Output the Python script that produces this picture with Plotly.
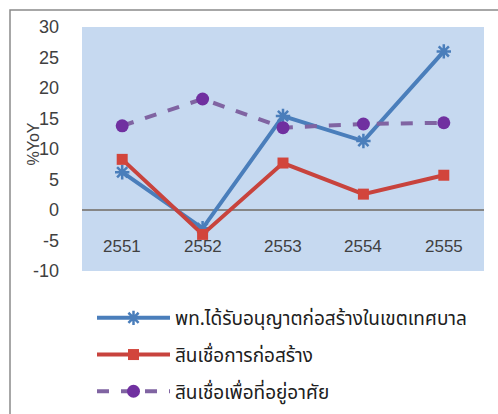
import plotly.graph_objects as go

years = ["2551", "2552", "2553", "2554", "2555"]
permits = [6.2, -3.0, 15.4, 11.3, 26.0]
constr_credit = [8.3, -4.0, 7.7, 2.6, 5.7]
housing_credit = [13.8, 18.2, 13.5, 14.1, 14.3]
y_ticks = [-10, -5, 0, 5, 10, 15, 20, 25, 30]

names = ["พท.ได้รับอนุญาตก่อสร้างในเขตเทศบาล", "สินเชื่อการก่อสร้าง", "สินเชื่อเพื่อที่อยู่อาศัย"]

W, H = 498, 414
ML, MR, MT, MB = 82, 14, 27, 143
pw, ph = W - ML - MR, H - MT - MB

def px_x(p):
    return (p - ML) / pw

def px_y(p):
    return (H - MB - p) / ph

fig = go.Figure()
fig.add_trace(go.Scatter(x=years, y=permits, name=names[0], mode="lines+markers", legendgroup="a",
                         line=dict(color="#4a7ebb", width=4),
                         marker=dict(symbol="asterisk-open", size=12, color="#4a7ebb",
                                     line=dict(color="#4a7ebb", width=2.5))))
fig.add_trace(go.Scatter(x=years, y=constr_credit, name=names[1], mode="lines+markers", legendgroup="b",
                         line=dict(color="#c8433d", width=4),
                         marker=dict(symbol="square", size=11, color="#d2453c")))
fig.add_trace(go.Scatter(x=years, y=housing_credit, name=names[2], mode="lines+markers", legendgroup="c",
                         line=dict(color="#8064a2", width=4, dash="dash"),
                         marker=dict(symbol="circle", size=13, color="#7030a0")))

for i, yr in enumerate(years):
    fig.add_annotation(x=i, y=-6, xref="x", yref="y", text=yr, showarrow=False,
                       font=dict(size=17, color="#404040", family="Liberation Sans, Arial"))

fig.add_annotation(x=px_x(22), y=px_y(144), xref="paper", yref="paper", text="%YoY",
                   textangle=-90, showarrow=False,
                   font=dict(size=16, color="#404040", family="Liberation Sans, Arial"))

fig.add_shape(type="rect", xref="paper", yref="paper",
              x0=px_x(10), y0=px_y(10), x1=px_x(520), y1=px_y(440),
              line=dict(color="#8a8a8a", width=1.5), fillcolor="rgba(0,0,0,0)", layer="below")

fig.update_layout(
    width=W, height=H,
    margin=dict(l=ML, r=MR, t=MT, b=MB, autoexpand=False),
    paper_bgcolor="white",
    plot_bgcolor="#c6d9f0",
    showlegend=True,
    legend=dict(x=px_x(92), y=px_y(299), xanchor="left", yanchor="top",
                font=dict(size=19, color="#202020", family="Noto Sans Thai, Tahoma, sans-serif"),
                tracegroupgap=9, itemwidth=73, bgcolor="rgba(0,0,0,0)"),
    xaxis=dict(type="category", showticklabels=False, showgrid=False, zeroline=False, showline=False,
               ticks="", range=[-0.5, 4.5]),
    yaxis=dict(range=[-10, 30], tickvals=y_ticks, ticktext=[str(v) for v in y_ticks],
               showgrid=False, zeroline=True,
               zerolinecolor="#868686", zerolinewidth=1.5, showline=False, ticks="",
               ticklabelstandoff=22,
               tickfont=dict(size=18, color="#404040", family="Liberation Sans, Arial")),
)

fig.write_html("out.html")
